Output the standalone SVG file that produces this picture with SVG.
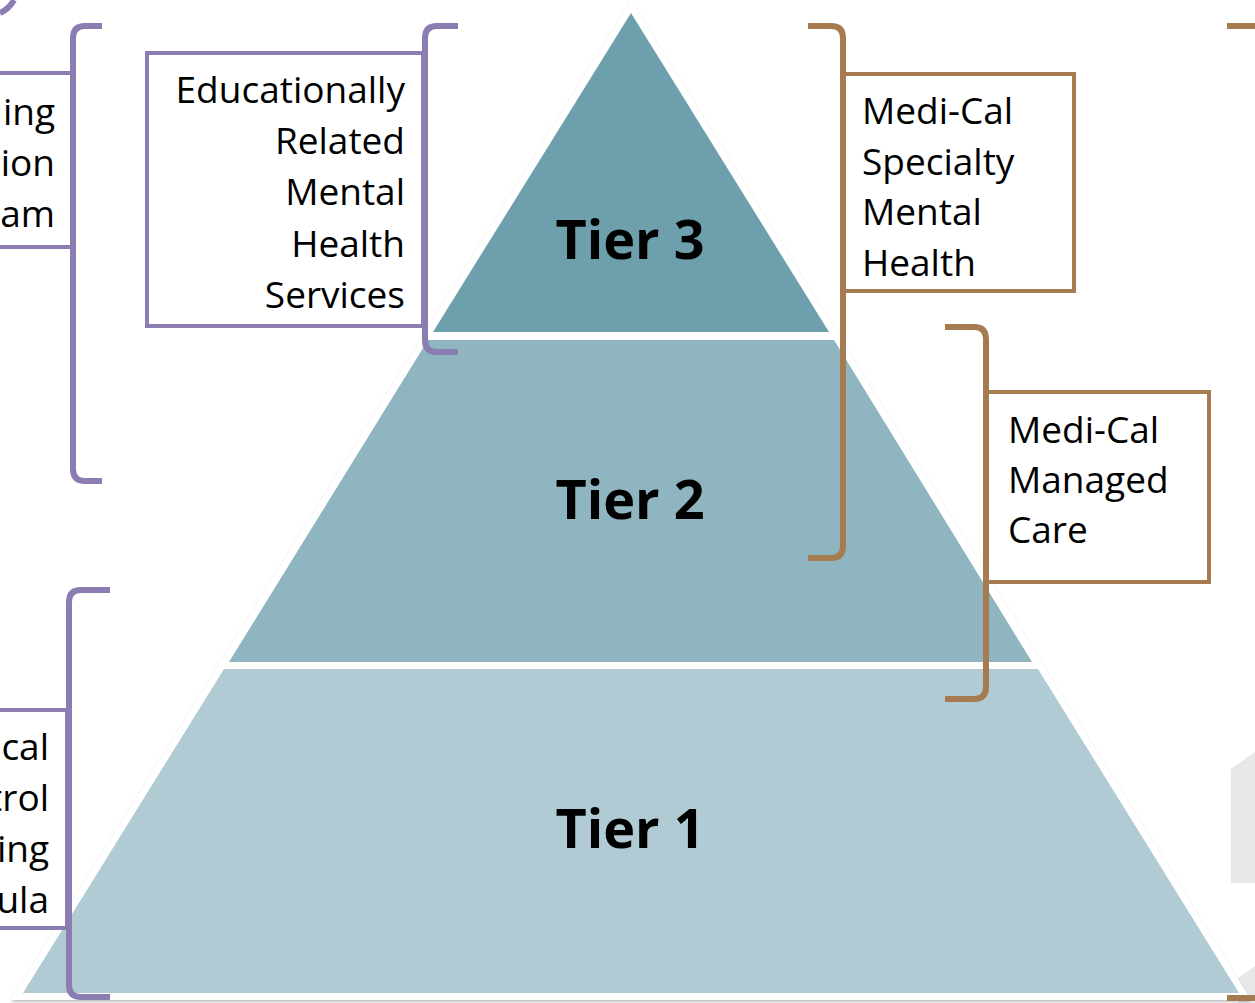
<svg xmlns="http://www.w3.org/2000/svg" width="1255" height="1003" viewBox="0 0 1255 1003">
  <style>
    .lbl { font-family: "Open Sans", "Liberation Sans", sans-serif; font-size: 37px; fill: #000; }
    .end { text-anchor: end; }
    .tier { font-family: "Open Sans", "Liberation Sans", sans-serif; font-weight: bold; font-size: 54px; fill: #000; text-anchor: middle; }
    .boxP { fill: #fff; stroke: #8B7DB1; stroke-width: 4; }
    .boxB { fill: #fff; stroke: #A67B4F; stroke-width: 4; }
    .brP { fill: none; stroke: #8B7DB1; stroke-width: 6; }
    .brB { fill: none; stroke: #A67B4F; stroke-width: 6; }
  </style>
  <defs>
    <filter id="soft" x="-5%" y="-5%" width="110%" height="110%">
      <feDropShadow dx="0" dy="2" stdDeviation="1.5" flood-color="#000" flood-opacity="0.25"/>
    </filter>
  </defs>

  <rect width="1255" height="1003" fill="#fff"/>

  <!-- shapes partly off the right edge -->
  <polygon points="1231,769 1255,752 1255,883 1231,883" fill="#E6E7E9"/>
  <polygon points="1238,978 1255,966 1255,1003 1238,1003" fill="#E6E7E9"/>

  <!-- pyramid -->
  <g id="pyramid">
    <polygon points="631,1 11,1000 1251,1000" fill="#fff" filter="url(#soft)"/>
    <g id="tier3">
      <polygon points="631,13 433,332 829,332" fill="#6E9FAD"/>
      <text class="tier" x="630" y="259">Tier 3</text>
    </g>
    <g id="tier2">
      <polygon points="428,340 834,340 1032,662 229,662" fill="#8FB5C0"/>
      <text class="tier" x="630" y="519">Tier 2</text>
    </g>
    <g id="tier1">
      <polygon points="224,669 1038,669 1239,993 23,993" fill="#B1CBD4"/>
      <text class="tier" x="630" y="848">Tier 1</text>
    </g>
  </g>

  <!-- label boxes -->
  <g id="box-left-top">
    <rect class="boxP" x="-10" y="73" width="83" height="174"/>
    <text class="lbl end" x="55" y="125">ing</text>
    <text class="lbl end" x="55" y="176">ion</text>
    <text class="lbl end" x="55" y="227">ram</text>
  </g>
  <g id="box-left-bottom">
    <rect class="boxP" x="-10" y="710" width="77" height="218"/>
    <text class="lbl end" x="49" y="760">cal</text>
    <text class="lbl end" x="49" y="811">trol</text>
    <text class="lbl end" x="49" y="862">ing</text>
    <text class="lbl end" x="49" y="913">ula</text>
  </g>
  <g id="box-ermhs">
    <rect class="boxP" x="147" y="53" width="276" height="273"/>
    <text class="lbl end" x="405" y="103">Educationally</text>
    <text class="lbl end" x="405" y="154">Related</text>
    <text class="lbl end" x="405" y="205">Mental</text>
    <text class="lbl end" x="405" y="257">Health</text>
    <text class="lbl end" x="405" y="308">Services</text>
  </g>
  <g id="box-specialty">
    <rect class="boxB" x="843" y="74" width="231" height="217"/>
    <text class="lbl" x="862" y="124">Medi-Cal</text>
    <text class="lbl" x="862" y="175">Specialty</text>
    <text class="lbl" x="862" y="225">Mental</text>
    <text class="lbl" x="862" y="276">Health</text>
  </g>
  <g id="box-managed">
    <rect class="boxB" x="986" y="392" width="223" height="190"/>
    <text class="lbl" x="1008" y="443">Medi-Cal</text>
    <text class="lbl" x="1008" y="493">Managed</text>
    <text class="lbl" x="1008" y="543">Care</text>
  </g>

  <!-- brackets -->
  <g id="connectors">
    <path class="brP" d="M0,13 Q9,9 14,0"/>
    <path class="brP" d="M102,26 H85 Q73,26 73,38 V469 Q73,481 85,481 H102"/>
    <path class="brP" d="M458,26 H437 Q425,26 425,38 V340 Q425,352 437,352 H458"/>
    <path class="brP" d="M110,590 H81 Q69,590 69,602 V985 Q69,997 81,997 H110"/>
    <path class="brB" d="M808,26 H831 Q843,26 843,38 V546 Q843,558 831,558 H808"/>
    <path class="brB" d="M945,327 H974 Q986,327 986,339 V687 Q986,699 974,699 H945"/>
    <path class="brB" d="M1227,26 H1255"/>
    <path class="brB" d="M1227,998 H1255"/>
  </g>
</svg>
